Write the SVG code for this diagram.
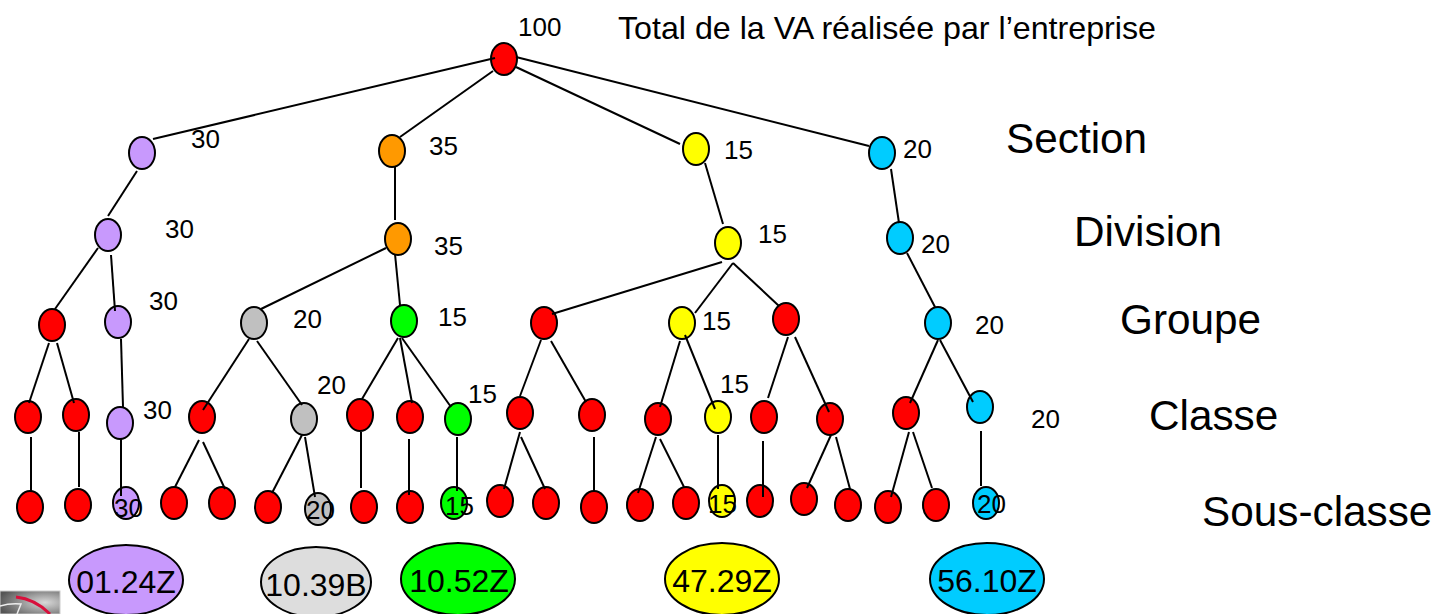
<svg xmlns="http://www.w3.org/2000/svg" width="1436" height="614" viewBox="0 0 1436 614">
<style>
text{font-family:"Liberation Sans",Arial,sans-serif;fill:#000}
.n{font-size:26px}.t{font-size:32.2px}.h{font-size:42.3px}.b{font-size:32px}
ellipse{stroke:#000;stroke-width:2}
.r{fill:#f00}.p{fill:#c899fd}.o{fill:#ff9900}.y{fill:#ff0}.c{fill:#00ccff}.g{fill:#c0c0c0}.v{fill:#0f0}.l{fill:#ddd}
#connectors line{stroke:#000;stroke-width:2}
</style>
<defs><radialGradient id="lg" cx="0.75" cy="0.5" r="0.8"><stop offset="0" stop-color="#d8d8d8"/><stop offset="1" stop-color="#555"/></radialGradient></defs>
<g id="logo"><rect x="0" y="591" width="60" height="23" fill="url(#lg)" stroke="#ccc"/><path d="M16 597Q35 599 50 614" fill="none" stroke="#d8103c" stroke-width="3"/><path d="M0 606Q10 603 21 604L17 614" fill="none" stroke="#eee" stroke-width="1.5"/></g>
<g id="n-root"><ellipse class="r" cx="504" cy="59" rx="13" ry="16"/></g>
<g id="n-s1"><ellipse class="p" cx="142" cy="153" rx="13" ry="16"/></g>
<g id="n-s2"><ellipse class="o" cx="392" cy="151" rx="13" ry="16"/></g>
<g id="n-s3"><ellipse class="y" cx="696" cy="149" rx="13" ry="16"/></g>
<g id="n-s4"><ellipse class="c" cx="882" cy="153" rx="13" ry="16"/></g>
<g id="n-d1"><ellipse class="p" cx="108" cy="235" rx="13" ry="16"/></g>
<g id="n-d2"><ellipse class="o" cx="398" cy="239" rx="13" ry="16"/></g>
<g id="n-d3"><ellipse class="y" cx="728" cy="243" rx="13" ry="16"/></g>
<g id="n-d4"><ellipse class="c" cx="900" cy="238" rx="13" ry="16"/></g>
<g id="n-g1"><ellipse class="r" cx="52" cy="325" rx="13" ry="16"/></g>
<g id="n-g2"><ellipse class="p" cx="118" cy="322" rx="13" ry="16"/></g>
<g id="n-g3"><ellipse class="g" cx="254" cy="323" rx="13" ry="16"/></g>
<g id="n-g4"><ellipse class="v" cx="404" cy="321" rx="13" ry="16"/></g>
<g id="n-g5"><ellipse class="r" cx="544" cy="323" rx="13" ry="16"/></g>
<g id="n-g6"><ellipse class="y" cx="682" cy="323" rx="13" ry="16"/></g>
<g id="n-g7"><ellipse class="r" cx="786" cy="319" rx="13" ry="16"/></g>
<g id="n-g8"><ellipse class="c" cx="938" cy="323" rx="13" ry="16"/></g>
<g id="n-c1"><ellipse class="r" cx="28" cy="417" rx="13" ry="16"/></g>
<g id="n-c2"><ellipse class="r" cx="76" cy="415" rx="13" ry="16"/></g>
<g id="n-c3"><ellipse class="p" cx="120" cy="423" rx="13" ry="16"/></g>
<g id="n-c4"><ellipse class="r" cx="202" cy="417" rx="13" ry="16"/></g>
<g id="n-c5"><ellipse class="g" cx="304" cy="419" rx="13" ry="16"/></g>
<g id="n-c6"><ellipse class="r" cx="360" cy="415" rx="13" ry="16"/></g>
<g id="n-c7"><ellipse class="r" cx="410" cy="417" rx="13" ry="16"/></g>
<g id="n-c8"><ellipse class="v" cx="458" cy="419" rx="13" ry="16"/></g>
<g id="n-c9"><ellipse class="r" cx="520" cy="413" rx="13" ry="16"/></g>
<g id="n-c10"><ellipse class="r" cx="592" cy="415" rx="13" ry="16"/></g>
<g id="n-c11"><ellipse class="r" cx="658" cy="419" rx="13" ry="16"/></g>
<g id="n-c12"><ellipse class="y" cx="718" cy="417" rx="13" ry="16"/></g>
<g id="n-c13"><ellipse class="r" cx="764" cy="417" rx="13" ry="16"/></g>
<g id="n-c14"><ellipse class="r" cx="830" cy="419" rx="13" ry="16"/></g>
<g id="n-c15"><ellipse class="r" cx="906" cy="413" rx="13" ry="16"/></g>
<g id="n-c16"><ellipse class="c" cx="980" cy="407" rx="13" ry="16"/></g>
<g id="n-f1"><ellipse class="r" cx="30" cy="507" rx="13" ry="16"/></g>
<g id="n-f2"><ellipse class="r" cx="78" cy="505" rx="13" ry="16"/></g>
<g id="n-f3"><ellipse class="p" cx="126" cy="503" rx="13" ry="16"/></g>
<g id="n-f4"><ellipse class="r" cx="174" cy="503" rx="13" ry="16"/></g>
<g id="n-f5"><ellipse class="r" cx="222" cy="503" rx="13" ry="16"/></g>
<g id="n-f6"><ellipse class="r" cx="268" cy="507" rx="13" ry="16"/></g>
<g id="n-f7"><ellipse class="g" cx="318" cy="509" rx="13" ry="16"/></g>
<g id="n-f8"><ellipse class="r" cx="364" cy="507" rx="13" ry="16"/></g>
<g id="n-f9"><ellipse class="r" cx="410" cy="507" rx="13" ry="16"/></g>
<g id="n-f10"><ellipse class="v" cx="454" cy="503" rx="13" ry="16"/></g>
<g id="n-f11"><ellipse class="r" cx="500" cy="501" rx="13" ry="16"/></g>
<g id="n-f12"><ellipse class="r" cx="546" cy="503" rx="13" ry="16"/></g>
<g id="n-f13"><ellipse class="r" cx="594" cy="507" rx="13" ry="16"/></g>
<g id="n-f14"><ellipse class="r" cx="640" cy="505" rx="13" ry="16"/></g>
<g id="n-f15"><ellipse class="r" cx="686" cy="503" rx="13" ry="16"/></g>
<g id="n-f16"><ellipse class="y" cx="722" cy="501" rx="13" ry="16"/></g>
<g id="n-f17"><ellipse class="r" cx="760" cy="501" rx="13" ry="16"/></g>
<g id="n-f18"><ellipse class="r" cx="804" cy="499" rx="13" ry="16"/></g>
<g id="n-f19"><ellipse class="r" cx="848" cy="505" rx="13" ry="16"/></g>
<g id="n-f20"><ellipse class="r" cx="888" cy="507" rx="13" ry="16"/></g>
<g id="n-f21"><ellipse class="r" cx="936" cy="505" rx="13" ry="16"/></g>
<g id="n-f22"><ellipse class="c" cx="986" cy="503" rx="13" ry="16"/></g>
<g id="n-code1"><ellipse class="p" cx="126" cy="580" rx="57" ry="35"/><text class="b" x="126" y="593" text-anchor="middle">01.24Z</text></g>
<g id="n-code2"><ellipse class="l" cx="316" cy="582" rx="55" ry="35"/><text class="b" x="316" y="596" text-anchor="middle">10.39B</text></g>
<g id="n-code3"><ellipse class="v" cx="458" cy="579" rx="57" ry="36"/><text class="b" x="459" y="592" text-anchor="middle">10.52Z</text></g>
<g id="n-code4"><ellipse class="y" cx="722" cy="579" rx="57" ry="36"/><text class="b" x="722" y="592" text-anchor="middle">47.29Z</text></g>
<g id="n-code5"><ellipse class="c" cx="987" cy="579" rx="57" ry="36"/><text class="b" x="987" y="592" text-anchor="middle">56.10Z</text></g>
<g id="connectors">
<line x1="495" y1="58" x2="153" y2="139"/><line x1="493" y1="71" x2="400" y2="137"/><line x1="516" y1="67" x2="680" y2="144"/><line x1="516" y1="57" x2="869" y2="146"/>
<line x1="137" y1="171" x2="108" y2="216"/><line x1="395" y1="167" x2="395" y2="220"/><line x1="705" y1="163" x2="723" y2="224"/><line x1="891" y1="169" x2="899" y2="223"/>
<line x1="98" y1="248" x2="55" y2="309"/><line x1="111" y1="255" x2="115" y2="311"/><line x1="386" y1="248" x2="261" y2="309"/><line x1="395" y1="254" x2="400" y2="305"/>
<line x1="722" y1="262" x2="552" y2="314"/><line x1="733" y1="263" x2="695" y2="313"/><line x1="733" y1="263" x2="779" y2="306"/><line x1="907" y1="253" x2="935" y2="307"/>
<line x1="49" y1="343" x2="29" y2="403"/><line x1="57" y1="343" x2="74" y2="403"/><line x1="121" y1="339" x2="123" y2="407"/><line x1="249" y1="339" x2="203" y2="410"/><line x1="257" y1="341" x2="302" y2="405"/>
<line x1="398" y1="338" x2="362" y2="399"/><line x1="400" y1="338" x2="412" y2="403"/><line x1="402" y1="338" x2="451" y2="407"/>
<line x1="541" y1="340" x2="520" y2="396"/><line x1="551" y1="341" x2="586" y2="402"/><line x1="680" y1="341" x2="660" y2="407"/><line x1="685" y1="335" x2="715" y2="409"/>
<line x1="788" y1="337" x2="768" y2="398"/><line x1="795" y1="337" x2="829" y2="412"/><line x1="938" y1="340" x2="910" y2="403"/><line x1="940" y1="340" x2="973" y2="402"/>
<line x1="31" y1="437" x2="31" y2="491"/><line x1="79" y1="432" x2="79" y2="487"/><line x1="121" y1="439" x2="121" y2="496"/><line x1="199" y1="440" x2="175" y2="487"/><line x1="203" y1="442" x2="225" y2="489"/>
<line x1="302" y1="435" x2="272" y2="493"/><line x1="305" y1="437" x2="315" y2="497"/><line x1="361" y1="432" x2="361" y2="488"/><line x1="409" y1="439" x2="409" y2="495"/><line x1="457" y1="437" x2="457" y2="491"/>
<line x1="520" y1="432" x2="504" y2="489"/><line x1="521" y1="437" x2="545" y2="489"/><line x1="594" y1="437" x2="594" y2="492"/><line x1="656" y1="437" x2="638" y2="493"/><line x1="660" y1="439" x2="684" y2="487"/>
<line x1="718" y1="435" x2="718" y2="489"/><line x1="763" y1="441" x2="763" y2="497"/><line x1="831" y1="435" x2="807" y2="488"/><line x1="836" y1="437" x2="850" y2="489"/>
<line x1="909" y1="432" x2="891" y2="497"/><line x1="913" y1="432" x2="932" y2="488"/><line x1="981" y1="431" x2="981" y2="486"/>
</g>
<g id="labels">
<text class="n" x="518" y="36">100</text><text class="t" x="618" y="39">Total de la VA réalisée par l’entreprise</text>
<text class="n" x="191" y="148">30</text><text class="n" x="429" y="155">35</text><text class="n" x="724" y="159">15</text><text class="n" x="903" y="158">20</text>
<text class="n" x="165" y="238">30</text><text class="n" x="434" y="255">35</text><text class="n" x="758" y="243">15</text><text class="n" x="921" y="253">20</text>
<text class="n" x="149" y="310">30</text><text class="n" x="293" y="328">20</text><text class="n" x="438" y="326">15</text><text class="n" x="702" y="330">15</text><text class="n" x="975" y="334">20</text>
<text class="n" x="143" y="419">30</text><text class="n" x="317" y="394">20</text><text class="n" x="468" y="403">15</text><text class="n" x="720" y="393">15</text><text class="n" x="1031" y="428">20</text>
<text class="n" x="114" y="517">30</text><text class="n" x="306" y="519">20</text><text class="n" x="445" y="515">15</text><text class="n" x="708" y="513">15</text><text class="n" x="977" y="513">20</text>
<text class="h" x="1006" y="153">Section</text><text class="h" x="1074" y="246">Division</text><text class="h" x="1120" y="334">Groupe</text><text class="h" x="1149" y="430">Classe</text><text class="h" x="1202" y="526">Sous-classe</text>
</g>
</svg>
